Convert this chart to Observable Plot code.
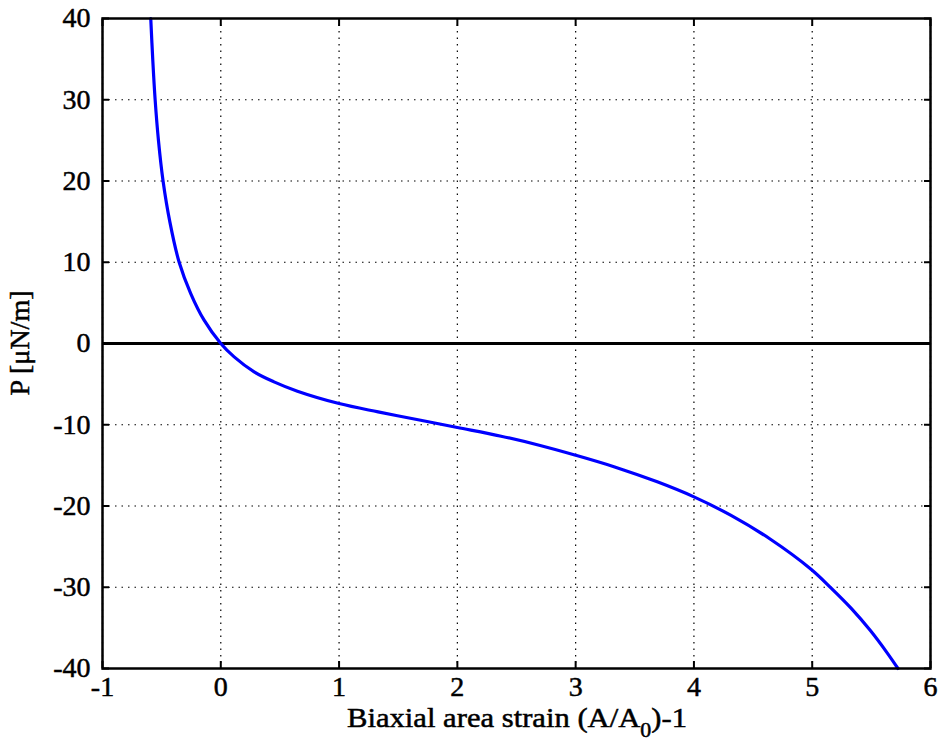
<!DOCTYPE html>
<html>
<head>
<meta charset="utf-8">
<script src="https://cdn.jsdelivr.net/npm/d3@7"></script>
<script src="https://cdn.jsdelivr.net/npm/@observablehq/plot@0.6"></script>
<style>
  html, body { margin: 0; padding: 0; background: #fff; }
</style>
</head>
<body>
<div id="chart"></div>
<script>
// Data
const strain = [-0.592, -0.575, -0.555, -0.527, -0.488, -0.431, -0.352, -0.254, -0.141, 0, 0.113, 0.282, 0.45, 0.648, 1.0, 1.33, 1.69, 2.0, 2.37, 2.70, 3.0, 3.33, 3.69, 4.0, 4.31, 4.65, 4.99, 5.16, 5.33, 5.49, 5.635, 5.725];
const pressure = [40, 34.9, 30, 25, 20, 15, 10, 6.15, 2.87, 0, -1.65, -3.49, -4.72, -5.87, -7.39, -8.42, -9.45, -10.34, -11.41, -12.55, -13.75, -15.19, -17.03, -18.88, -21.13, -24.12, -27.78, -30.1, -32.6, -35.3, -38.1, -40];
const xTicks = [-1, 0, 1, 2, 3, 4, 5, 6];
const yTicks = [-40, -30, -20, -10, 0, 10, 20, 30, 40];
const xLabelMain = "Biaxial area strain (A/A";
const xLabelSub = "0";
const xLabelEnd = ")-1";
const yLabel = "P [\u03bcN/m]";

const points = strain.map((s, i) => ({x: s, y: pressure[i]}));

const W = 940, H = 743;
const mL = 102, mR = 10, mT = 18, mB = 75;
const FONT = "Liberation Serif";
const FS = 28;

const plot = Plot.plot({
  width: W,
  height: H,
  marginLeft: mL,
  marginRight: mR,
  marginTop: mT,
  marginBottom: mB,
  style: {fontFamily: FONT, fontSize: FS + "px", color: "black", background: "white"},
  x: {domain: [-1, 6]},
  y: {domain: [-40, 40]},
  marks: [
    Plot.gridX(xTicks, {stroke: "black", strokeOpacity: 1, strokeWidth: 1.2, strokeDasharray: "1.5,5"}),
    Plot.gridY(yTicks, {stroke: "black", strokeOpacity: 1, strokeWidth: 1.2, strokeDasharray: "1.5,5"}),
    Plot.ruleY([0], {stroke: "black", strokeWidth: 3}),
    Plot.line(points, {x: "x", y: "y", stroke: "#0000ff", strokeWidth: 3.2, curve: "catmull-rom"}),
    Plot.frame({stroke: "black", strokeWidth: 2.5}),
    // inward tick marks on all four sides
    Plot.axisX(xTicks, {anchor: "bottom", tickSize: -7, strokeWidth: 2, tickFormat: () => "", label: null}),
    Plot.axisX(xTicks, {anchor: "top", tickSize: -7, strokeWidth: 2, tickFormat: () => "", label: null}),
    Plot.axisY(yTicks, {anchor: "left", tickSize: -7, strokeWidth: 2, tickFormat: () => "", label: null}),
    Plot.axisY(yTicks, {anchor: "right", tickSize: -7, strokeWidth: 2, tickFormat: () => "", label: null}),
    // tick labels
    Plot.axisX(xTicks, {anchor: "bottom", tickSize: 0, tickPadding: 8, fontSize: FS, fontFamily: FONT, tickFormat: d => String(d), label: null}),
    Plot.axisY(yTicks, {anchor: "left", tickSize: 0, tickPadding: 12, fontSize: FS, fontFamily: FONT, tickFormat: d => String(d), label: null})
  ]
});

document.getElementById("chart").appendChild(plot);

// axis titles (with subscript)
const svg = d3.select(plot);
const cx = mL + (W - mL - mR) / 2;
const cy = mT + (H - mT - mB) / 2;
const xt = svg.append("text")
  .attr("x", cx + 1)
  .attr("y", 727)
  .attr("text-anchor", "middle")
  .attr("font-size", 28)
  .attr("textLength", 340)
  .attr("lengthAdjust", "spacingAndGlyphs")
  .attr("fill", "black");
xt.append("tspan").text(xLabelMain);
xt.append("tspan").attr("dy", 10).attr("font-size", 20).text(xLabelSub);
xt.append("tspan").attr("dy", -10).text(xLabelEnd);

svg.append("text")
  .attr("transform", `translate(29,${cy}) rotate(-90)`)
  .attr("text-anchor", "middle")
  .attr("font-size", 28)
  .attr("fill", "black")
  .text(yLabel);

// force serif font and a slightly heavier stroke on every text
svg.selectAll("text, tspan")
  .style("font-family", "'Liberation Serif', 'Times New Roman', serif")
  .style("font-variant", "normal");
svg.selectAll("text")
  .style("stroke", "black")
  .style("stroke-width", "0.5px")
  .style("fill", "black");
</script>
</body>
</html>
